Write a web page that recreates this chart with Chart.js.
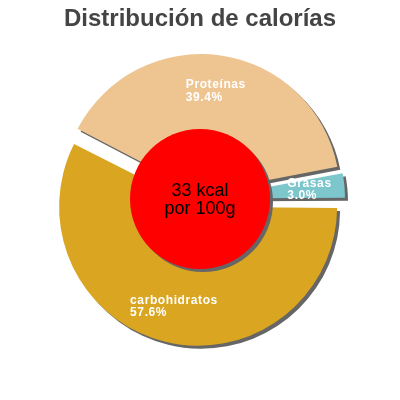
<!DOCTYPE html>
<html>
<head>
<meta charset="utf-8">
<script src="https://cdn.jsdelivr.net/npm/chart.js@4.4.0/dist/chart.umd.min.js"></script>
<style>
html, body { margin: 0; padding: 0; background: #ffffff; }
canvas { display: block; }
</style>
</head>
<body>
<canvas id="c" width="400" height="400" style="width:400px;height:400px"></canvas>
<script>
// ---- data ----
const chartTitle = 'Distribución de calorías';
const categories = ['carbohidratos', 'Proteínas', 'Grasas'];
const percentages = [57.6, 39.4, 3.0];
const energyValue = 33;
const energyUnit = 'kcal';
const energyBasis = 'por 100g';

// ---- style ----
const sliceColors = ['#DAA520', '#EEC591', '#7CC6CC'];
const sliceOffsets = [32, 24, 24];
const FONT = '"Liberation Sans", Arial, Helvetica, sans-serif';
const OUTER_R = 139;
const CENTER_R = 70;
const LABEL_R = 110;
const SHADOW = '#666666';

const decor = {
  id: 'decor',
  afterDatasetUpdate(chart, args) {
    args.meta.data.forEach(arc => {
      const t = (arc.options.offset || 0) / 4;
      const fix = 1 - Math.sin(Math.min(Math.PI, arc.circumference));
      arc.outerRadius = OUTER_R - t * fix;
    });
  },
  beforeDatasetsDraw(chart) {
    const ctx = chart.ctx;
    ctx.save();
    ctx.shadowColor = SHADOW;
    ctx.shadowOffsetX = 3;
    ctx.shadowOffsetY = 3;
    ctx.shadowBlur = 0;
  },
  afterDatasetsDraw(chart) {
    const ctx = chart.ctx;
    const meta = chart.getDatasetMeta(0);
    const cx = meta.data[0].x, cy = meta.data[0].y;

    // centre disc (still shadowed)
    ctx.beginPath();
    ctx.arc(cx, cy, CENTER_R, 0, Math.PI * 2);
    ctx.fillStyle = '#FF0000';
    ctx.fill();
    ctx.restore();

    // centre text
    ctx.save();
    ctx.fillStyle = '#000000';
    ctx.font = '18px ' + FONT;
    ctx.textAlign = 'center';
    ctx.textBaseline = 'alphabetic';
    ctx.fillText(energyValue + ' ' + energyUnit, cx, cy - 3);
    ctx.fillText(energyBasis, cx, cy + 15.3);
    ctx.restore();

    // slice labels
    ctx.save();
    ctx.fillStyle = '#FFFFFF';
    ctx.font = 'bold 12px ' + FONT;
    ctx.letterSpacing = '0.6px';
    ctx.textAlign = 'left';
    ctx.textBaseline = 'alphabetic';
    meta.data.forEach((arc, i) => {
      const mid = (arc.startAngle + arc.endAngle) / 2;
      const px = cx + Math.cos(mid) * LABEL_R;
      const py = cy + Math.sin(mid) * LABEL_R;
      const l1 = categories[i];
      const l2 = percentages[i].toFixed(1) + '%';
      const w = Math.max(ctx.measureText(l1).width, ctx.measureText(l2).width);
      const left = px - w / 2;
      ctx.fillText(l1, left, py - 2);
      ctx.fillText(l2, left, py + 10.5);
    });
    ctx.restore();

    // title
    ctx.save();
    ctx.fillStyle = '#444444';
    ctx.font = 'bold 24px ' + FONT;
    ctx.textAlign = 'center';
    ctx.textBaseline = 'alphabetic';
    ctx.fillText(chartTitle, chart.width / 2, 25.7);
    ctx.restore();
  }
};

new Chart(document.getElementById('c'), {
  type: 'pie',
  data: {
    labels: categories,
    datasets: [{
      data: percentages,
      backgroundColor: sliceColors,
      borderWidth: 0,
      offset: sliceOffsets,
      hoverOffset: 0
    }]
  },
  options: {
    responsive: false,
    animation: false,
    rotation: 90,
    radius: OUTER_R - sliceOffsets[0] / 4,
    layout: { padding: { top: 0, bottom: 2, left: 0, right: 0 } },
    events: [],
    plugins: {
      legend: { display: false },
      tooltip: { enabled: false },
      title: { display: false }
    }
  },
  plugins: [decor]
});
</script>
</body>
</html>
